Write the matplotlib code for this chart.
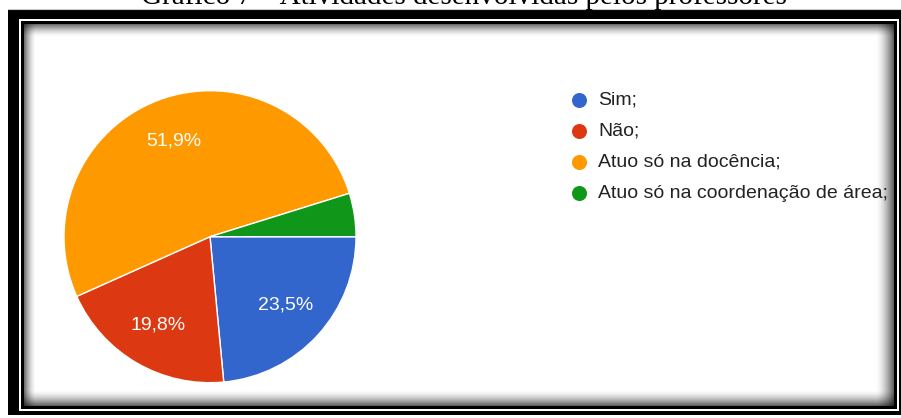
import numpy as np
import matplotlib
matplotlib.use("Agg")
import matplotlib.pyplot as plt
from matplotlib.patches import Rectangle

# ---- data ----
categories = ["Sim;", "Não;", "Atuo só na docência;", "Atuo só na coordenação de área;"]
values = [23.5, 19.8, 51.9, 4.8]
colors = ["#3366CC", "#DC3912", "#FF9900", "#109618"]
title = "Gráfico 7 – Atividades desenvolvidas pelos professores"

W, H = 901, 418
fig = plt.figure(figsize=(W / 100, H / 100), dpi=100)
fig.patch.set_facecolor("white")

# background axes in pixel coordinates
bg = fig.add_axes([0, 0, 1, 1])
bg.set_xlim(0, W)
bg.set_ylim(H, 0)
bg.axis("off")

# title (cut off at the top)
bg.text(464, 4, title, ha="center", va="baseline", fontsize=21,
        family="Liberation Serif", color="black")

# frame
bg.plot([8, W], [8.5, 8.5], color="#c8c8c8", lw=0.8)
bg.add_patch(Rectangle((8, 9), 905, 406, facecolor="black", edgecolor="none"))
bg.add_patch(Rectangle((19, 19), 880, 392, facecolor="white", edgecolor="none"))
bg.add_patch(Rectangle((21, 21), 876, 388, facecolor="black", edgecolor="none"))

# inner shadow gradient
x0, x1, y0, y1 = 24, 894, 24, 406
xs = np.arange(x0, x1) + 0.5
ys = np.arange(y0, y1) + 0.5
XX, YY = np.meshgrid(xs, ys)
def fade(d, w, s):
    return 1 - s * np.clip(1 - d / w, 0, 1) ** 1.6
img = (fade(XX - x0, 12, 0.6) * fade(x1 - XX, 18, 0.65) *
       fade(YY - y0, 13, 0.6) * fade(y1 - YY, 16, 0.65))
bg.imshow(np.dstack([img, img, img]), extent=(x0, x1, y1, y0),
          interpolation="bilinear", zorder=1)

# legend (manual, in pixel coordinates)
for i, (lab, col) in enumerate(zip(categories, colors)):
    yy = 100 + 31 * i
    bg.scatter([579], [yy], s=15 ** 2 * 0.52, color=col, zorder=3, linewidths=0)
    bg.text(598, yy, lab, ha="left", va="center", fontsize=14,
            family="Liberation Sans", color="#222222", zorder=3)

# pie
cx, cy, r = 210, 236.7, 146
pax = fig.add_axes([(cx - r) / W, (H - cy - r) / H, 2 * r / W, 2 * r / H])
pax.set_xlim(-1, 1)
pax.set_ylim(-1, 1)
pax.axis("off")

def fmt(p):
    return "" if p < 5 else f"{p:.1f}".replace(".", ",") + "%"

wedges, texts, autotexts = pax.pie(
    values, colors=colors, startangle=0, counterclock=False, radius=1,
    autopct=fmt, pctdistance=0.7,
    wedgeprops=dict(edgecolor="white", linewidth=1.0),
    textprops=dict(color="white", fontsize=14, family="Liberation Sans"))
pax.set_aspect("auto")
pax.set_xlim(-1, 1)
pax.set_ylim(-1, 1)

fig.savefig("out.png", dpi=100)
